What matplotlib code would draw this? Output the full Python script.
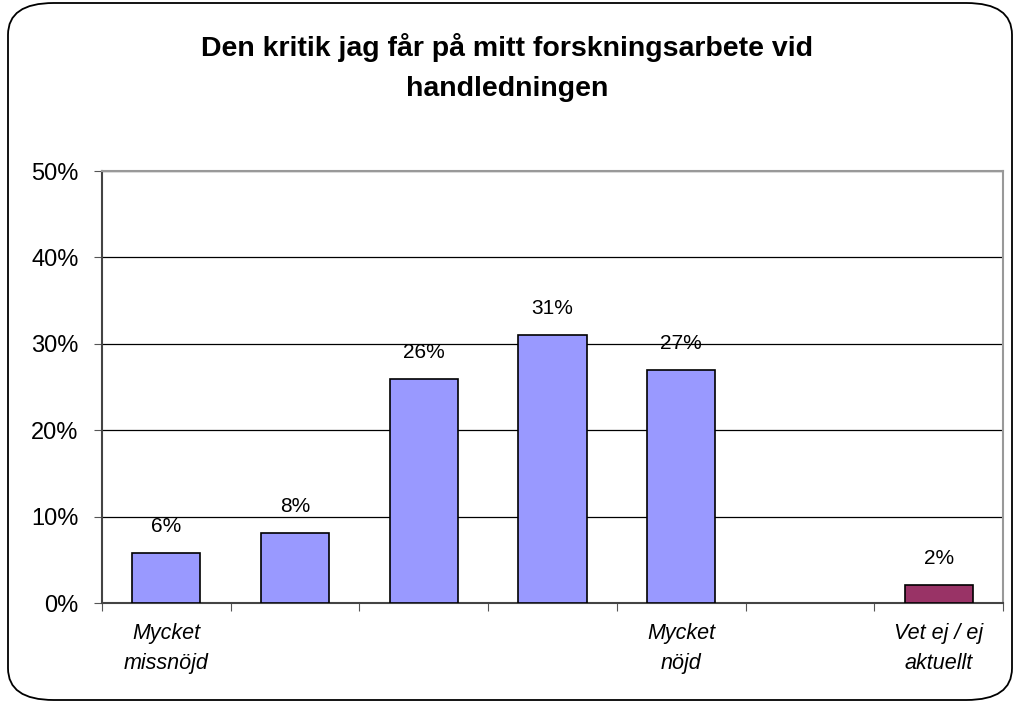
import matplotlib.pyplot as plt
from matplotlib.patches import FancyBboxPatch
import numpy as np

categories = ["Mycket\nmissnöjd", "", "", "", "Mycket\nnöjd", "", "Vet ej / ej\naktuellt"]
values = [5.8, 8.1, 25.9, 31.0, 27.0, None, 2.1]
colors = ["#9999FF"] * 6 + ["#993366"]
title = "Den kritik jag får på mitt forskningsarbete vid\nhandledningen"

plt.rcParams['font.family'] = ['Liberation Sans', 'DejaVu Sans']

fig = plt.figure(figsize=(10.14, 7.06), dpi=100)
ax = fig.add_axes([102 / 1014, 1 - 603 / 706, 901 / 1014, 432 / 706])

# rounded outer frame
frame = FancyBboxPatch((8 / 1014, 6 / 706), 1004 / 1014, 697 / 706,
                       boxstyle="round,pad=0,rounding_size=0.045",
                       transform=fig.transFigure, fill=False,
                       edgecolor="black", linewidth=1.3, zorder=0)
fig.patches.append(frame)

x = np.arange(len(categories))
for i, v in enumerate(values):
    if v is None:
        continue
    ax.bar(x[i], v, width=0.53, color=colors[i], edgecolor="black",
           linewidth=1.2, zorder=3)
    ax.annotate(f"{v:.0f}%", (x[i], v), xytext=(0, 19), textcoords="offset points",
                ha="center", va="center", fontsize=15)

ax.set_xlim(-0.5, len(categories) - 0.5)
ax.set_ylim(0, 50)
ax.set_yticks(range(0, 51, 10))
ax.set_yticklabels([f"{t}%" for t in range(0, 51, 10)], fontsize=17)
ax.yaxis.grid(True, color="black", linewidth=0.9, zorder=0)
ax.set_axisbelow(True)

ax.set_xticks(np.arange(-0.5, len(categories), 1))
ax.set_xticklabels([])
ax.tick_params(axis="x", length=6, direction="out", color="#555555")
ax.tick_params(axis="y", length=6, direction="out", color="#555555", pad=11)
for i, lab in enumerate(categories):
    ax.text(x[i], -2.3, lab, ha="center", va="top", fontsize=15.5,
            style="italic", linespacing=1.6)

ax.spines["left"].set_color("#444444")
ax.spines["left"].set_linewidth(1.5)
ax.spines["bottom"].set_color("#444444")
ax.spines["bottom"].set_linewidth(1.5)
ax.spines["top"].set_color("#999999")
ax.spines["right"].set_color("#999999")
ax.spines["top"].set_linewidth(1.5)
ax.spines["right"].set_linewidth(1.5)

fig.text(0.5, 1 - 68 / 706, title, ha="center", va="center", fontsize=20.5,
         fontweight="bold", linespacing=1.7)

fig.savefig("out.png", dpi=100)
